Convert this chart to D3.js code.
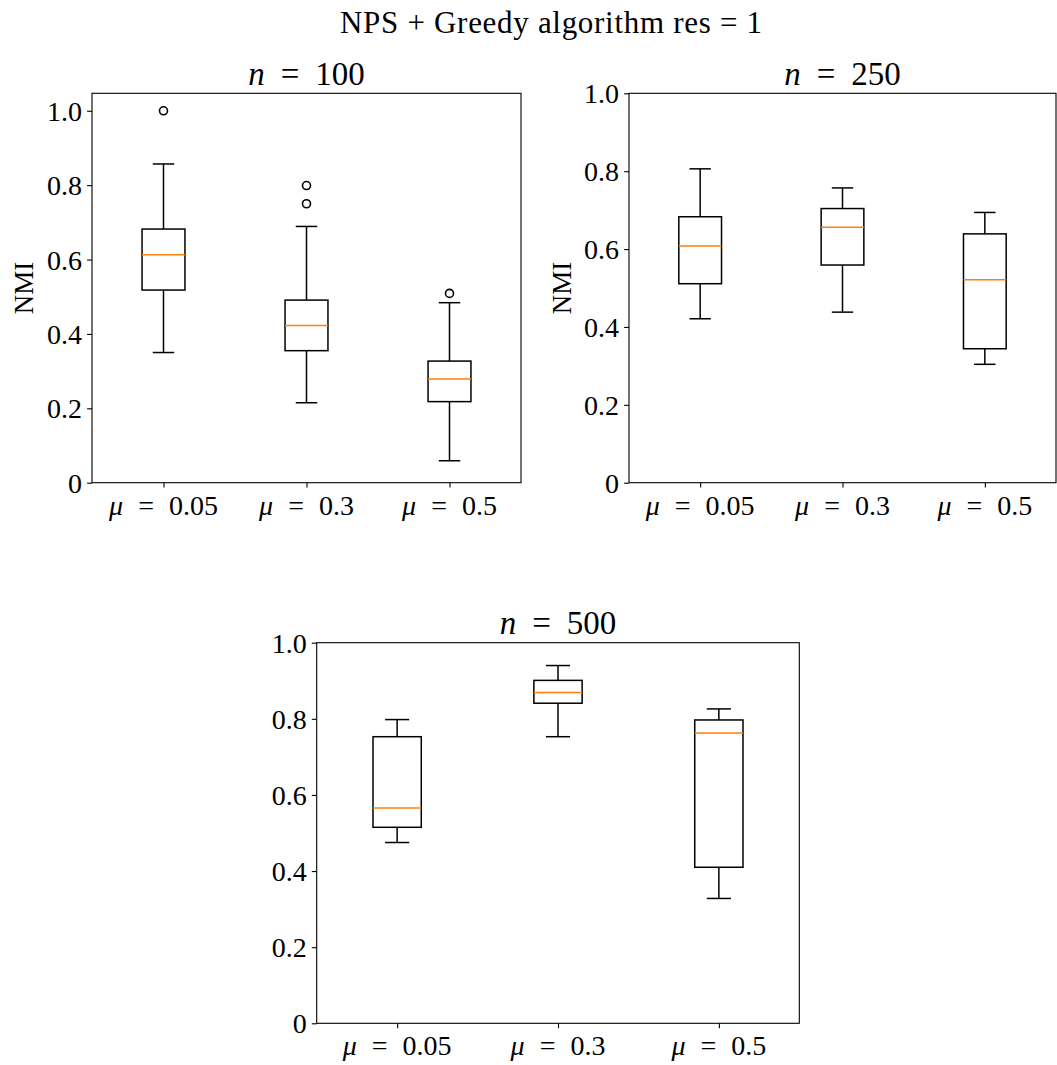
<!DOCTYPE html>
<html>
<head>
<meta charset="utf-8">
<script src="https://cdn.jsdelivr.net/npm/d3@7"></script>
<style>
  html, body { margin: 0; padding: 0; background: #fff; }
  svg { display: block; }
  text { font-family: "Liberation Serif", "Times New Roman", serif; fill: #000; }
</style>
</head>
<body>
<svg id="chart" width="1057" height="1065"></svg>
<script>
// ---------- data ----------
const suptitle = "NPS + Greedy algorithm res = 1";
const categories = ["0.05", "0.3", "0.5"];
const panelNs = ["100", "250", "500"];
const yTicks = [0, 0.2, 0.4, 0.6, 0.8, 1.0];

// n = 100
const n100Low  = [0.350, 0.215, 0.059];
const n100Q1   = [0.518, 0.355, 0.218];
const n100Med  = [0.613, 0.423, 0.279];
const n100Q3   = [0.682, 0.491, 0.327];
const n100High = [0.857, 0.689, 0.484];
const n100Out  = [[1.0], [0.799, 0.750], [0.509]];

// n = 250
const n250Low  = [0.421, 0.438, 0.304];
const n250Q1   = [0.511, 0.559, 0.344];
const n250Med  = [0.608, 0.656, 0.521];
const n250Q3   = [0.683, 0.704, 0.639];
const n250High = [0.806, 0.757, 0.694];
const n250Out  = [[], [], []];

// n = 500
const n500Low  = [0.475, 0.753, 0.328];
const n500Q1   = [0.515, 0.841, 0.410];
const n500Med  = [0.566, 0.869, 0.763];
const n500Q3   = [0.753, 0.901, 0.797];
const n500High = [0.798, 0.940, 0.826];
const n500Out  = [[], [], []];

const yMax = [1.047, 1.0, 1.0];

// ---------- layout ----------
const panels = [
  { n: panelNs[0], low: n100Low, q1: n100Q1, med: n100Med, q3: n100Q3, high: n100High, out: n100Out,
    x0: 92, x1: 521, y0: 93.3, y1: 482.7, ymax: yMax[0], ylabel: true, ylabX: 24 },
  { n: panelNs[1], low: n250Low, q1: n250Q1, med: n250Med, q3: n250Q3, high: n250High, out: n250Out,
    x0: 629, x1: 1056, y0: 93.3, y1: 482.7, ymax: yMax[1], ylabel: true, ylabX: 562 },
  { n: panelNs[2], low: n500Low, q1: n500Q1, med: n500Med, q3: n500Q3, high: n500High, out: n500Out,
    x0: 316.7, x1: 799.3, y0: 642.7, y1: 1023.3, ymax: yMax[2], ylabel: false }
];

const svg = d3.select("#chart");
const TICK_FS = 28;

// math-like label: italic symbol, wide-spaced "=", value
function mathLabel(sel, sym, val, gap) {
  sel.append("tspan").attr("font-style", "italic").text(sym);
  sel.append("tspan").attr("dx", gap).text("=");
  sel.append("tspan").attr("dx", gap).text(val);
}

svg.append("text")
  .attr("x", 551).attr("y", 33)
  .attr("text-anchor", "middle")
  .attr("font-size", 31)
  .attr("textLength", 422).attr("lengthAdjust", "spacing")
  .text(suptitle);

panels.forEach(p => {
  const g = svg.append("g");
  const x = d3.scaleLinear().domain([0.5, 3.5]).range([p.x0, p.x1]);
  const y = d3.scaleLinear().domain([0, p.ymax]).range([p.y1, p.y0]);
  const boxW = 0.3, capW = 0.15;

  // y axis
  const yAxis = d3.axisLeft(y).tickValues(yTicks.filter(t => t <= p.ymax + 1e-9))
    .tickSize(4.9).tickPadding(5)
    .tickFormat(d => d === 0 ? "0" : d3.format(".1f")(d));
  const ya = g.append("g").attr("transform", `translate(${p.x0},0)`).call(yAxis);
  ya.select(".domain").remove();
  ya.selectAll("line").attr("stroke", "#000").attr("stroke-width", 1.1);
  ya.selectAll("text").attr("font-size", TICK_FS).attr("font-family", "Liberation Serif").attr("fill", "#000")
    .attr("dy", "0.34em");

  // x axis
  const xAxis = d3.axisBottom(x).tickValues([1, 2, 3]).tickSize(4.9).tickPadding(4.5).tickFormat("");
  const xa = g.append("g").attr("transform", `translate(0,${p.y1})`).call(xAxis);
  xa.select(".domain").remove();
  xa.selectAll("line").attr("stroke", "#000").attr("stroke-width", 1.1);
  categories.forEach((c, i) => {
    const t = g.append("text")
      .attr("x", x(i + 1)).attr("y", p.y1 + 32)
      .attr("text-anchor", "middle")
      .attr("font-size", TICK_FS);
    mathLabel(t, "μ", c, 15);
  });

  // frame
  g.append("rect")
    .attr("x", p.x0).attr("y", p.y0)
    .attr("width", p.x1 - p.x0).attr("height", p.y1 - p.y0)
    .attr("fill", "none").attr("stroke", "#000").attr("stroke-width", 1.1);

  // title
  const tt = g.append("text")
    .attr("x", (p.x0 + p.x1) / 2).attr("y", p.y0 - 8.5)
    .attr("text-anchor", "middle")
    .attr("font-size", 33);
  mathLabel(tt, "n", p.n, 16);

  // ylabel
  if (p.ylabel) {
    const cy = (p.y0 + p.y1) / 2;
    g.append("text")
      .attr("transform", `translate(${p.ylabX + 9},${cy}) rotate(-90)`)
      .attr("text-anchor", "middle")
      .attr("font-size", 27)
      .text("NMI");
  }

  // boxes
  categories.forEach((c, i) => {
    const pos = i + 1;
    const bx = g.append("g");
    // whiskers
    bx.append("line").attr("x1", x(pos)).attr("x2", x(pos)).attr("y1", y(p.q3[i])).attr("y2", y(p.high[i]))
      .attr("stroke", "#000").attr("stroke-width", 1.5);
    bx.append("line").attr("x1", x(pos)).attr("x2", x(pos)).attr("y1", y(p.q1[i])).attr("y2", y(p.low[i]))
      .attr("stroke", "#000").attr("stroke-width", 1.5);
    // caps
    [p.high[i], p.low[i]].forEach(v => {
      bx.append("line").attr("x1", x(pos - capW / 2)).attr("x2", x(pos + capW / 2))
        .attr("y1", y(v)).attr("y2", y(v))
        .attr("stroke", "#000").attr("stroke-width", 1.5);
    });
    // box
    bx.append("rect")
      .attr("x", x(pos - boxW / 2)).attr("y", y(p.q3[i]))
      .attr("width", x(pos + boxW / 2) - x(pos - boxW / 2))
      .attr("height", y(p.q1[i]) - y(p.q3[i]))
      .attr("fill", "none").attr("stroke", "#000").attr("stroke-width", 1.5);
    // median
    bx.append("line").attr("x1", x(pos - boxW / 2)).attr("x2", x(pos + boxW / 2))
      .attr("y1", y(p.med[i])).attr("y2", y(p.med[i]))
      .attr("stroke", "#ff7f0e").attr("stroke-width", 1.5);
    // fliers
    p.out[i].forEach(v => {
      bx.append("circle").attr("cx", x(pos)).attr("cy", y(v)).attr("r", 4)
        .attr("fill", "none").attr("stroke", "#000").attr("stroke-width", 1.6);
    });
  });
});
</script>
</body>
</html>
